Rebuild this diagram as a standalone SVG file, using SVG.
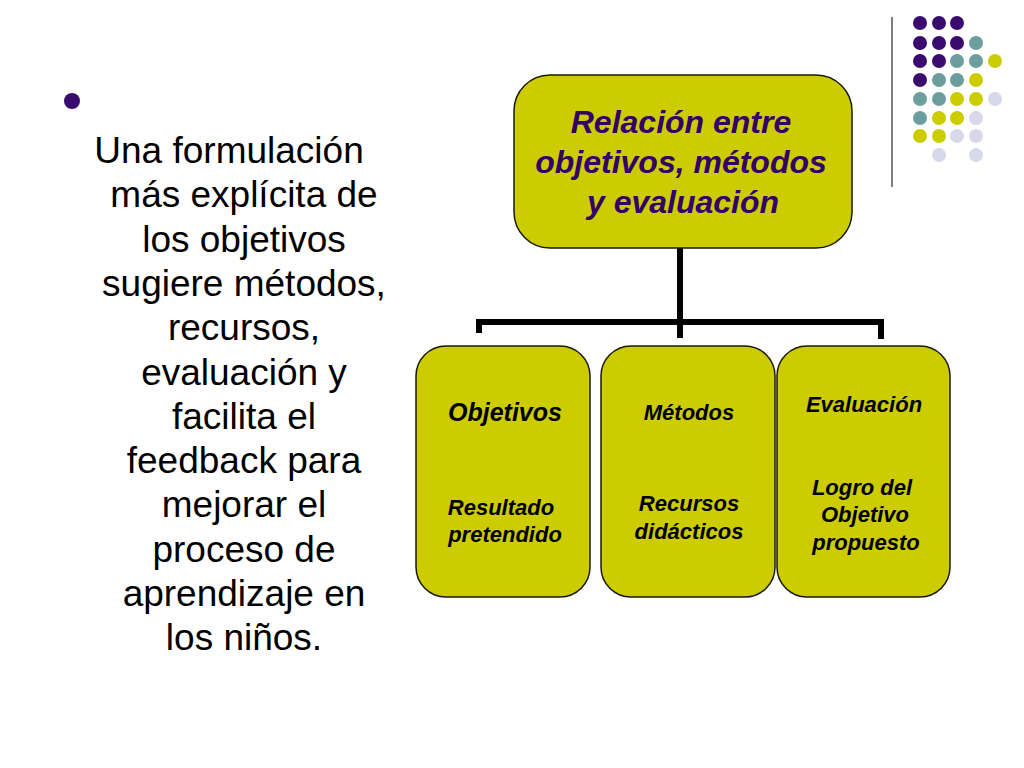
<svg xmlns="http://www.w3.org/2000/svg" width="1024" height="768" viewBox="0 0 1024 768">
<style>
.box{fill:#CCCC00;stroke:#1a1a00;stroke-width:1.5}
.t{font-family:"Liberation Sans",Arial,sans-serif;font-weight:bold;font-style:italic;text-anchor:middle;fill:#000;font-size:22px}
.big{font-size:25px}
.top{font-size:32px;fill:#330066}
.body{font-family:"Liberation Sans",Arial,sans-serif;font-size:37px;text-anchor:middle;fill:#000}
.conn{fill:none;stroke:#000;stroke-width:6}
.p{fill:#3A0A6E}.g{fill:#6C9E9E}.y{fill:#CCCC00}.l{fill:#D8D8EA}
</style>
<rect width="1024" height="768" fill="#fff"/>
<g id="decor">
<line x1="892" y1="17" x2="892" y2="187" stroke="#555" stroke-width="1.5"/>
<circle class="p" cx="920" cy="23" r="7"/><circle class="p" cx="939" cy="23" r="7"/><circle class="p" cx="957" cy="23" r="7"/>
<circle class="p" cx="920" cy="43" r="7"/><circle class="p" cx="939" cy="43" r="7"/><circle class="p" cx="957" cy="43" r="7"/><circle class="g" cx="976" cy="43" r="7"/>
<circle class="p" cx="920" cy="61" r="7"/><circle class="p" cx="939" cy="61" r="7"/><circle class="g" cx="957" cy="61" r="7"/><circle class="g" cx="976" cy="61" r="7"/><circle class="y" cx="995" cy="61" r="7"/>
<circle class="p" cx="920" cy="80" r="7"/><circle class="g" cx="939" cy="80" r="7"/><circle class="g" cx="957" cy="80" r="7"/><circle class="y" cx="976" cy="80" r="7"/>
<circle class="g" cx="920" cy="99" r="7"/><circle class="g" cx="939" cy="99" r="7"/><circle class="y" cx="957" cy="99" r="7"/><circle class="y" cx="976" cy="99" r="7"/><circle class="l" cx="995" cy="99" r="7"/>
<circle class="g" cx="920" cy="118" r="7"/><circle class="y" cx="939" cy="118" r="7"/><circle class="y" cx="957" cy="118" r="7"/><circle class="l" cx="976" cy="118" r="7"/>
<circle class="y" cx="920" cy="136" r="7"/><circle class="y" cx="939" cy="136" r="7"/><circle class="l" cx="957" cy="136" r="7"/><circle class="l" cx="976" cy="136" r="7"/>
<circle class="l" cx="939" cy="155" r="7"/><circle class="l" cx="976" cy="155" r="7"/>
</g>
<g id="bullet-text">
<circle cx="72" cy="101" r="8" fill="#3A0A6E"/>
<text class="body" x="229" y="163">Una formulación</text>
<text class="body" x="244" y="207.3">más explícita de</text>
<text class="body" x="244" y="251.6">los objetivos</text>
<text class="body" x="244" y="295.9">sugiere métodos,</text>
<text class="body" x="244" y="340.2">recursos,</text>
<text class="body" x="244" y="384.5">evaluación y</text>
<text class="body" x="244" y="428.8">facilita el</text>
<text class="body" x="244" y="473.1">feedback para</text>
<text class="body" x="244" y="517.4">mejorar el</text>
<text class="body" x="244" y="561.7">proceso de</text>
<text class="body" x="244" y="606">aprendizaje en</text>
<text class="body" x="244" y="650.3">los niños.</text>
</g>
<g id="connectors">
<line class="conn" x1="680" y1="248" x2="680" y2="338"/>
<polyline class="conn" points="479,333 479,322 881,322 881,339"/>
</g>
<g id="node-root">
<rect class="box" x="514" y="75" width="338" height="173" rx="36"/>
<text class="t top" x="681" y="133">Relación entre</text>
<text class="t top" x="681" y="173">objetivos, métodos</text>
<text class="t top" x="683" y="213">y evaluación</text>
</g>
<g id="node-objetivos">
<rect class="box" x="416" y="346" width="174" height="251" rx="30"/>
<text class="t big" x="505" y="421">Objetivos</text>
<text class="t" x="501" y="515">Resultado</text>
<text class="t" x="505" y="542">pretendido</text>
</g>
<g id="node-metodos">
<rect class="box" x="601" y="346" width="174" height="251" rx="30"/>
<text class="t" x="689" y="420">Métodos</text>
<text class="t" x="689" y="511">Recursos</text>
<text class="t" x="689" y="539">didácticos</text>
</g>
<g id="node-evaluacion">
<rect class="box" x="777" y="346" width="173" height="251" rx="30"/>
<text class="t" x="864" y="412">Evaluación</text>
<text class="t" x="862" y="495">Logro del</text>
<text class="t" x="865" y="522">Objetivo</text>
<text class="t" x="866" y="550">propuesto</text>
</g>
</svg>
